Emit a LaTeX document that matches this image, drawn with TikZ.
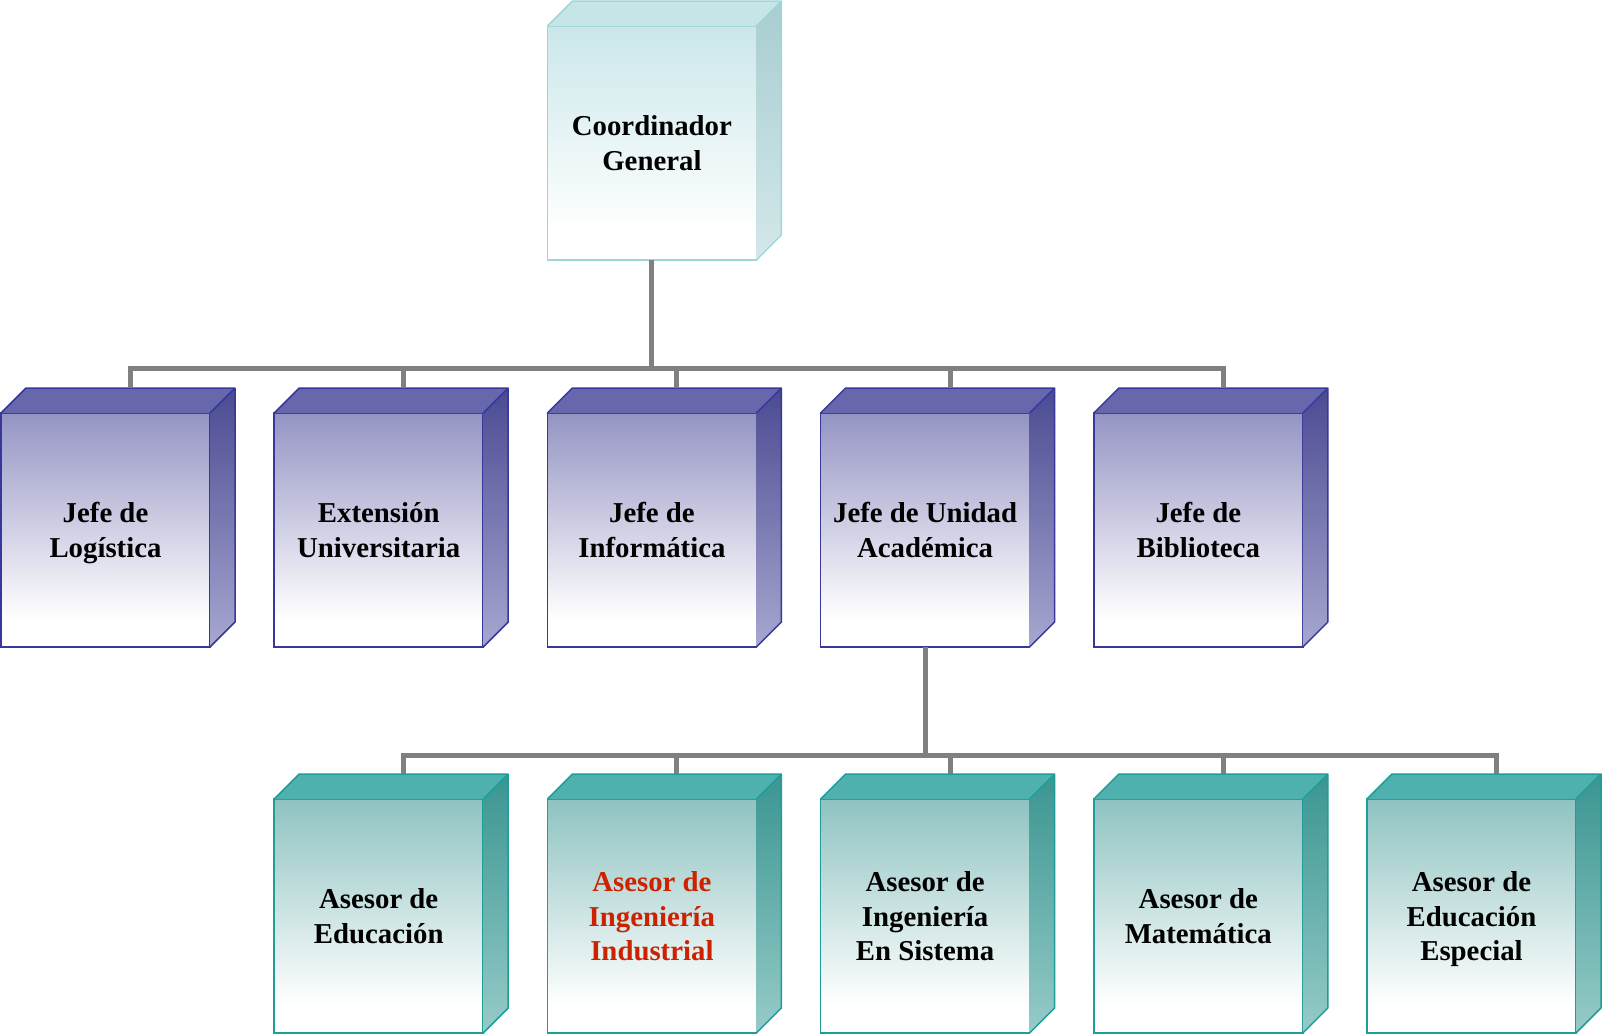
\documentclass[tikz,border=0pt]{standalone}
\usepackage{fontspec}
\setmainfont{Liberation Serif}
\usetikzlibrary{calc}
\definecolor{linegray}{HTML}{808080}
% top (light cyan)
\definecolor{aBorder}{HTML}{9FD6D9}
\definecolor{aFront}{HTML}{CBE7EA}
\definecolor{aTop}{HTML}{C6E5E7}
\definecolor{aSideT}{HTML}{A8CDD0}
\definecolor{aSideB}{HTML}{D3E8EA}
% middle (blue-violet)
\definecolor{bBorder}{HTML}{38389C}
\definecolor{bFront}{HTML}{9494C4}
\definecolor{bTop}{HTML}{6767AE}
\definecolor{bSideT}{HTML}{4A4A92}
\definecolor{bSideB}{HTML}{A7A7D0}
% bottom (teal)
\definecolor{cBorder}{HTML}{1E9D99}
\definecolor{cFront}{HTML}{8EC3C1}
\definecolor{cTop}{HTML}{4EB1AE}
\definecolor{cSideT}{HTML}{3A9591}
\definecolor{cSideB}{HTML}{96CBC8}
\definecolor{redtext}{HTML}{CC2200}

\pgfdeclareverticalshading{ashade}{100bp}{color(0bp)=(white); color(31bp)=(white); color(75bp)=(aFront); color(100bp)=(aFront)}
\pgfdeclareverticalshading{bshade}{100bp}{color(0bp)=(white); color(31bp)=(white); color(75bp)=(bFront); color(100bp)=(bFront)}
\pgfdeclareverticalshading{cshade}{100bp}{color(0bp)=(white); color(31bp)=(white); color(75bp)=(cFront); color(100bp)=(cFront)}

\tikzset{
  conn/.style={draw=linegray, line width=5pt},
  cubefront/.style={rectangle, minimum width=209pt, minimum height=234pt,
    anchor=north west, inner sep=0pt, outer sep=0pt, align=center,
    font=\bfseries\fontsize{28.8}{34.7}\selectfont, line width=1.5pt,
    text depth=-1pt},
  afront/.style={cubefront, draw=aBorder, shading=ashade},
  bfront/.style={cubefront, draw=bBorder, shading=bshade},
  cfront/.style={cubefront, draw=cBorder, shading=cshade},
}

\newcommand\cubefaces[5]{%
  \fill[#2] (#1.north west) -- ++(25,-25) -- ++(209,0) -- (#1.north east) -- cycle;
  \shade[top color=#3, bottom color=#4] (#1.north east) -- ++(25,-25) -- ++(0,234) -- (#1.south east) -- cycle;
  \draw[#5, line width=1.5pt, line join=round] (#1.north west) -- ++(25,-25) -- ++(209,0) -- ++(0,234) -- (#1.south east)
     (#1.north east) -- ++(25,-25);
  \coordinate (#1-t) at ($(#1.north)+(25,-25)$);
}

\begin{document}
\begin{tikzpicture}[x=1pt, y=-1pt]
\useasboundingbox (0,0) rectangle (1603,1034);

% nodes (front faces)
\node[afront] (coord) at (547.4,26) {Coordinador\\General};
\cubefaces{coord}{aTop}{aSideT}{aSideB}{aBorder}

\node[bfront] (log) at (1,413) {Jefe de\\Logística};
\node[bfront] (ext) at (274.2,413) {Extensión\\Universitaria};
\node[bfront] (inf) at (547.4,413) {Jefe de\\Informática};
\node[bfront] (uni) at (820.6,413) {Jefe de Unidad\\Académica};
\node[bfront] (bib) at (1093.8,413) {Jefe de\\Biblioteca};
\foreach \n in {log,ext,inf,uni,bib} {\cubefaces{\n}{bTop}{bSideT}{bSideB}{bBorder}}

\node[cfront] (edu) at (274.2,799) {Asesor de\\Educación};
\node[cfront, text=redtext] (ind) at (547.4,799) {Asesor de\\Ingeniería\\Industrial};
\node[cfront] (sis) at (820.6,799) {Asesor de\\Ingeniería\\En Sistema};
\node[cfront] (mat) at (1093.8,799) {Asesor de\\Matemática};
\node[cfront] (esp) at (1367,799) {Asesor de\\Educación\\Especial};
\foreach \n in {edu,ind,sis,mat,esp} {\cubefaces{\n}{cTop}{cSideT}{cSideB}{cBorder}}

% connectors
\coordinate (j1) at ($(coord.south)+(0,108)$);
\coordinate (j2) at ($(uni.south)+(0,108)$);
\draw[conn] (coord.south) -- (j1);
\foreach \n in {log,ext,inf,uni,bib} {\draw[conn] (j1) -| (\n-t);}
\draw[conn] (uni.south) -- (j2);
\foreach \n in {edu,ind,sis,mat,esp} {\draw[conn] (j2) -| (\n-t);}
\end{tikzpicture}
\end{document}
